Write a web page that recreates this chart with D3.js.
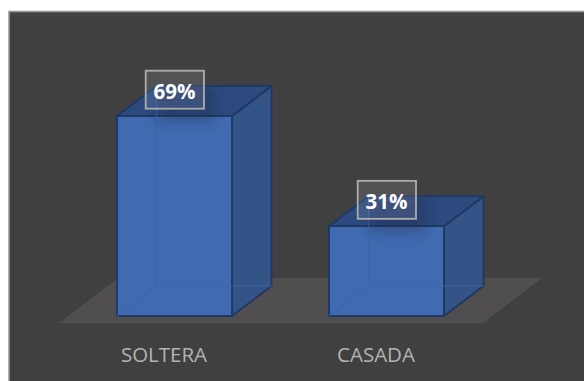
<!DOCTYPE html>
<html>
<head>
<meta charset="utf-8">
<script src="https://cdn.jsdelivr.net/npm/d3@7/dist/d3.min.js"></script>
<style>
html,body{margin:0;padding:0;background:#fff;}
svg{display:block;}
text{font-family:"Open Sans","Noto Sans",sans-serif;}
</style>
</head>
<body>
<svg id="chart" width="584" height="381"></svg>
<script>
// Share of women by marital status
const categories = ["SOLTERA", "CASADA"];
const shares = [69, 31];
const shareLabels = ["69%", "31%"];

const svg = d3.select("#chart");

// Oblique projection of the 3D column box
const depthX = 39.5, depthY = -30;
const baseY = 316;

const x = d3.scaleBand().domain(categories).range([64, 497]).paddingInner(0.4575).paddingOuter(0.25);
const y = d3.scaleLinear().domain([0, 69]).range([baseY, 116]);

const defs = svg.append("defs");
const blur = defs.append("filter").attr("id", "shade")
  .attr("x", "-30%").attr("y", "-50%").attr("width", "160%").attr("height", "200%");
blur.append("feGaussianBlur").attr("stdDeviation", 6);

// Panel, running off the right and bottom of the page
svg.append("rect").attr("x", 9).attr("y", 11.5).attr("width", 590).attr("height", 385)
  .attr("fill", "#404040").attr("stroke", "#999999").attr("stroke-width", 1.6);

// Floor of the plot
const line = d3.line();
svg.append("path")
  .attr("d", line([[59, 323], [483, 323], [542, 278], [118, 278]]) + "Z")
  .attr("fill", "#504e4e");

const edge = "#1f3864";
const bars = svg.selectAll("g.bar").data(categories).join("g").attr("class", "bar");

bars.each(function (c, i) {
  const g = d3.select(this);
  const x0 = x(c), x1 = x0 + x.bandwidth();
  const y0 = baseY, y1 = y(shares[i]);
  const off = ([a, b]) => [a + depthX, b + depthY];
  const poly = (pts, fill) => g.append("path").attr("d", line(pts) + "Z")
    .attr("fill", fill).attr("stroke", edge).attr("stroke-width", 1.9).attr("stroke-linejoin", "round");

  // Right side and top faces
  poly([[x1, y0], off([x1, y0]), off([x1, y1]), [x1, y1]], "#345387");
  const top = [[x0, y1], [x1, y1], off([x1, y1]), off([x0, y1])];
  poly(top, "#2c4a7d");

  // Front face
  const front = [[x0, y0], [x1, y0], [x1, y1], [x0, y1]];
  poly(front, "#416bb0");

  // Hidden back edges seen faintly through the translucent front
  g.append("path")
    .attr("d", line([[x0, y0], off([x0, y0]), off([x0, y1])]) + "M" + off([x0, y0]) + "L" + off([x1, y0]))
    .attr("fill", "none").attr("stroke", "#3c65aa").attr("stroke-width", 1.1);

  // Soft shade cast by the value label, kept on the faces of the column
  const clipId = "faces" + i;
  defs.append("clipPath").attr("id", clipId).append("path")
    .attr("d", line(top) + "Z" + line(front) + "Z");
  g.append("g").attr("clip-path", `url(#${clipId})`)
    .append("rect").attr("x", x0 + 40).attr("y", y1 - 30).attr("width", 58).attr("height", 36)
    .attr("fill", "#18294d").attr("fill-opacity", 0.36).attr("filter", "url(#shade)");

  // Value label
  g.append("rect").attr("x", x0 + 28.7).attr("y", y1 - 45.3).attr("width", 58.3).attr("height", 38)
    .attr("fill", "#fff").attr("fill-opacity", 0.1).attr("stroke", "#acacac").attr("stroke-width", 1.8);
  g.append("text").attr("x", x0 + 57.5).attr("y", y1 - 17.3).attr("text-anchor", "middle")
    .attr("fill", "#fff").attr("font-weight", 700).attr("font-size", 20.5).text(shareLabels[i]);

  // Category label
  g.append("text").attr("x", x0 + 47).attr("y", 361.8).attr("text-anchor", "middle")
    .attr("fill", "#b3b3b3").attr("font-size", 20.5).text(c);
});
</script>
</body>
</html>
